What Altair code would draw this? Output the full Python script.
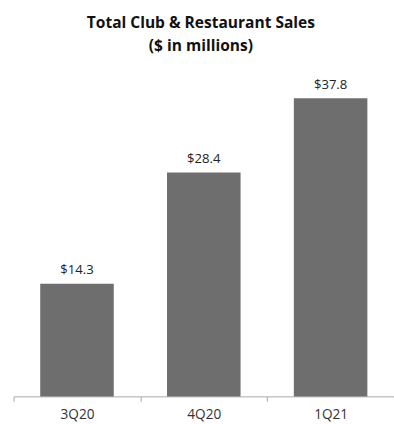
import altair as alt
import pandas as pd

quarters = ["3Q20", "4Q20", "1Q21"]
sales = [14.3, 28.4, 37.8]
labels = ["$14.3", "$28.4", "$37.8"]

df = pd.DataFrame({"quarter": quarters, "sales": sales, "label": labels})

x = alt.X(
    "quarter:N",
    sort=quarters,
    scale=alt.Scale(paddingInner=0, paddingOuter=0),
    axis=alt.Axis(
        title=None,
        labelAngle=0,
        tickBand="extent",
        tickSize=5,
        tickColor="#a6a6a6",
        domainColor="#a6a6a6",
        labelFont="Open Sans",
        labelFontSize=14,
        labelColor="#333333",
        labelPadding=7,
    ),
)
y = alt.Y("sales:Q", scale=alt.Scale(domain=[0, 40]), axis=None)

bars = alt.Chart(df).mark_bar(color="#6e6e6e", width={"band": 0.58}).encode(x=x, y=y)
text = alt.Chart(df).mark_text(
    baseline="bottom", dy=-7, font="Open Sans", fontSize=13.5, color="#222222"
).encode(x=x, y=y, text="label:N")

chart = (
    (bars + text)
    .properties(
        width=392,
        height=325,
        autosize=alt.AutoSizeParams(type="none"),
        padding={"left": 14, "top": 77, "right": 0, "bottom": 22},
        title=alt.TitleParams(
            text=["Total Club & Restaurant Sales", "($ in millions)"],
            font="Open Sans",
            fontSize=16,
            fontWeight="bold",
            color="#111111",
            lineHeight=23,
            anchor="middle",
            align="center",
            dx=-3,
            offset=25,
        ),
    )
    .configure_view(stroke=None)
)

chart.save("out.html", embed_options={"renderer": "svg", "actions": False})
